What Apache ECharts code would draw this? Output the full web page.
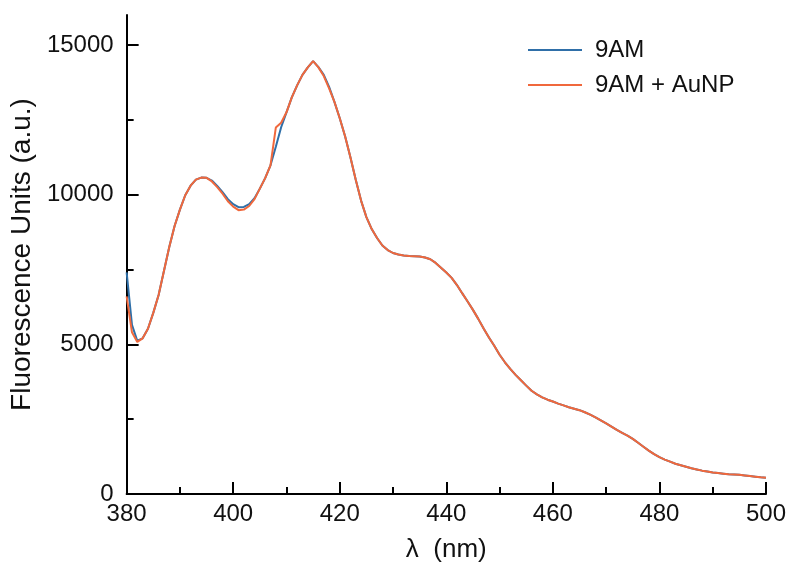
<!DOCTYPE html>
<html>
<head>
<meta charset="utf-8">
<script src="https://cdn.jsdelivr.net/npm/echarts@6/dist/echarts.min.js"></script>
<style>
html,body{margin:0;padding:0;background:#fff;}
#chart{width:789px;height:568px;}
</style>
</head>
<body>
<div id="chart"></div>
<script>
const wavelengths = [380,381,382,383,384,385,386,387,388,389,390,391,392,393,394,395,396,397,398,399,
400,401,402,403,404,405,406,407,408,409,410,411,412,413,414,415,416,417,418,419,
420,421,422,423,424,425,426,427,428,429,430,431,432,433,434,435,436,437,438,439,
440,441,442,443,444,445,446,447,448,449,450,451,452,453,454,455,456,457,458,459,
460,461,462,463,464,465,466,467,468,469,470,471,472,473,474,475,476,477,478,479,
480,481,482,483,484,485,486,487,488,489,490,491,492,493,494,495,496,497,498,499,500];

const series9AM = [7400,5650,5120,5200,5520,6050,6650,7450,8250,8950,9500,9980,10300,10500,10570,10560,10470,10290,10080,9850,
9680,9580,9590,9680,9880,10200,10550,10980,11600,12250,12750,13250,13650,14000,14250,14460,14260,14000,13600,13100,
12550,11950,11250,10500,9800,9250,8850,8550,8300,8150,8050,8000,7970,7950,7940,7930,7900,7840,7720,7560,
7400,7220,6980,6700,6430,6150,5850,5530,5230,4950,4650,4400,4180,3980,3800,3620,3450,3330,3230,3150,
3090,3020,2960,2900,2850,2800,2730,2650,2560,2460,2360,2250,2140,2040,1950,1840,1710,1580,1450,1330,
1230,1150,1080,1010,960,910,860,820,780,750,720,700,680,660,650,640,620,600,580,560,545];

const series9AMAuNP = [6600,5400,5080,5200,5520,6050,6650,7450,8250,8950,9500,9980,10300,10500,10570,10560,10440,10250,10030,9780,
9600,9480,9500,9620,9850,10200,10550,10980,12240,12400,12750,13250,13650,14000,14250,14460,14250,13960,13550,13100,
12550,11950,11250,10500,9800,9250,8850,8550,8300,8150,8050,8000,7970,7950,7940,7930,7900,7840,7720,7560,
7400,7220,6980,6700,6430,6150,5850,5530,5230,4950,4650,4400,4180,3980,3800,3620,3450,3330,3230,3150,
3090,3020,2960,2900,2850,2800,2730,2650,2560,2460,2360,2250,2140,2040,1950,1840,1710,1580,1450,1330,
1230,1150,1080,1010,960,910,860,820,780,750,720,700,680,660,650,640,620,600,580,560,545];

const seriesNames = ['9AM', '9AM + AuNP'];
const yMajorTicks = [0, 5000, 10000, 15000];
const yMinorTicks = [2500, 7500, 12500];

const FONT = '"Liberation Sans", Arial, Helvetica, sans-serif';
const chart = echarts.init(document.getElementById('chart'), null, {renderer: 'canvas'});

function pairs(ys) { return wavelengths.map((x, i) => [x, ys[i]]); }

chart.setOption({
  animation: false,
  backgroundColor: '#fff',
  textStyle: {fontFamily: FONT},
  grid: {left: 123, right: 23, top: 15, bottom: 72.5},
  legend: {
    orient: 'vertical',
    left: 528, top: 38, padding: 0,
    icon: 'rect',
    itemWidth: 54, itemHeight: 2, itemGap: 11,
    textStyle: {fontSize: 24, lineHeight: 14, color: '#111', fontFamily: FONT, padding: [0,0,0,8]},
    data: seriesNames
  },
  xAxis: {
    type: 'value', min: 380, max: 500, interval: 20,
    name: 'λ  (nm)', nameLocation: 'middle', nameGap: 43,
    nameTextStyle: {fontSize: 26, color: '#111', fontFamily: FONT},
    axisLine: {show: true, onZero: false, lineStyle: {color: '#000', width: 2}},
    axisTick: {show: true, inside: true, length: 12, lineStyle: {color: '#000', width: 2}},
    minorTick: {show: true, splitNumber: 2, length: 7, lineStyle: {color: '#000', width: 2}},
    axisLabel: {fontSize: 24, color: '#111', margin: 8, fontFamily: FONT},
    splitLine: {show: false}, minorSplitLine: {show: false}
  },
  yAxis: [{
    type: 'value', min: 0, max: 16000, interval: 5000,
    name: 'Fluorescence Units (a.u.)', nameLocation: 'middle', nameGap: 84,
    nameTextStyle: {fontSize: 28, color: '#111', fontFamily: FONT},
    axisLine: {show: true, onZero: false, lineStyle: {color: '#000', width: 2}},
    axisTick: {show: true, inside: true, length: 12, customValues: yMajorTicks, lineStyle: {color: '#000', width: 2}},
    axisLabel: {fontSize: 24, color: '#111', margin: 13, customValues: yMajorTicks, fontFamily: FONT,
      formatter: v => String(v)},
    splitLine: {show: false}
  }, {
    type: 'value', min: 0, max: 16000, position: 'left', offset: 0,
    axisLine: {show: false},
    axisTick: {show: true, inside: true, length: 7, customValues: yMinorTicks, lineStyle: {color: '#000', width: 2}},
    axisLabel: {show: false},
    splitLine: {show: false}
  }],
  series: [{
    name: seriesNames[0], type: 'line', yAxisIndex: 0,
    data: pairs(series9AM), showSymbol: false, symbol: 'none',
    color: '#2f6fa8', lineStyle: {width: 2, color: '#2f6fa8'}, z: 2
  }, {
    name: seriesNames[1], type: 'line', yAxisIndex: 0,
    data: pairs(series9AMAuNP), showSymbol: false, symbol: 'none',
    color: '#f0683c', lineStyle: {width: 2, color: '#f0683c'}, z: 3
  }]
});
</script>
</body>
</html>
